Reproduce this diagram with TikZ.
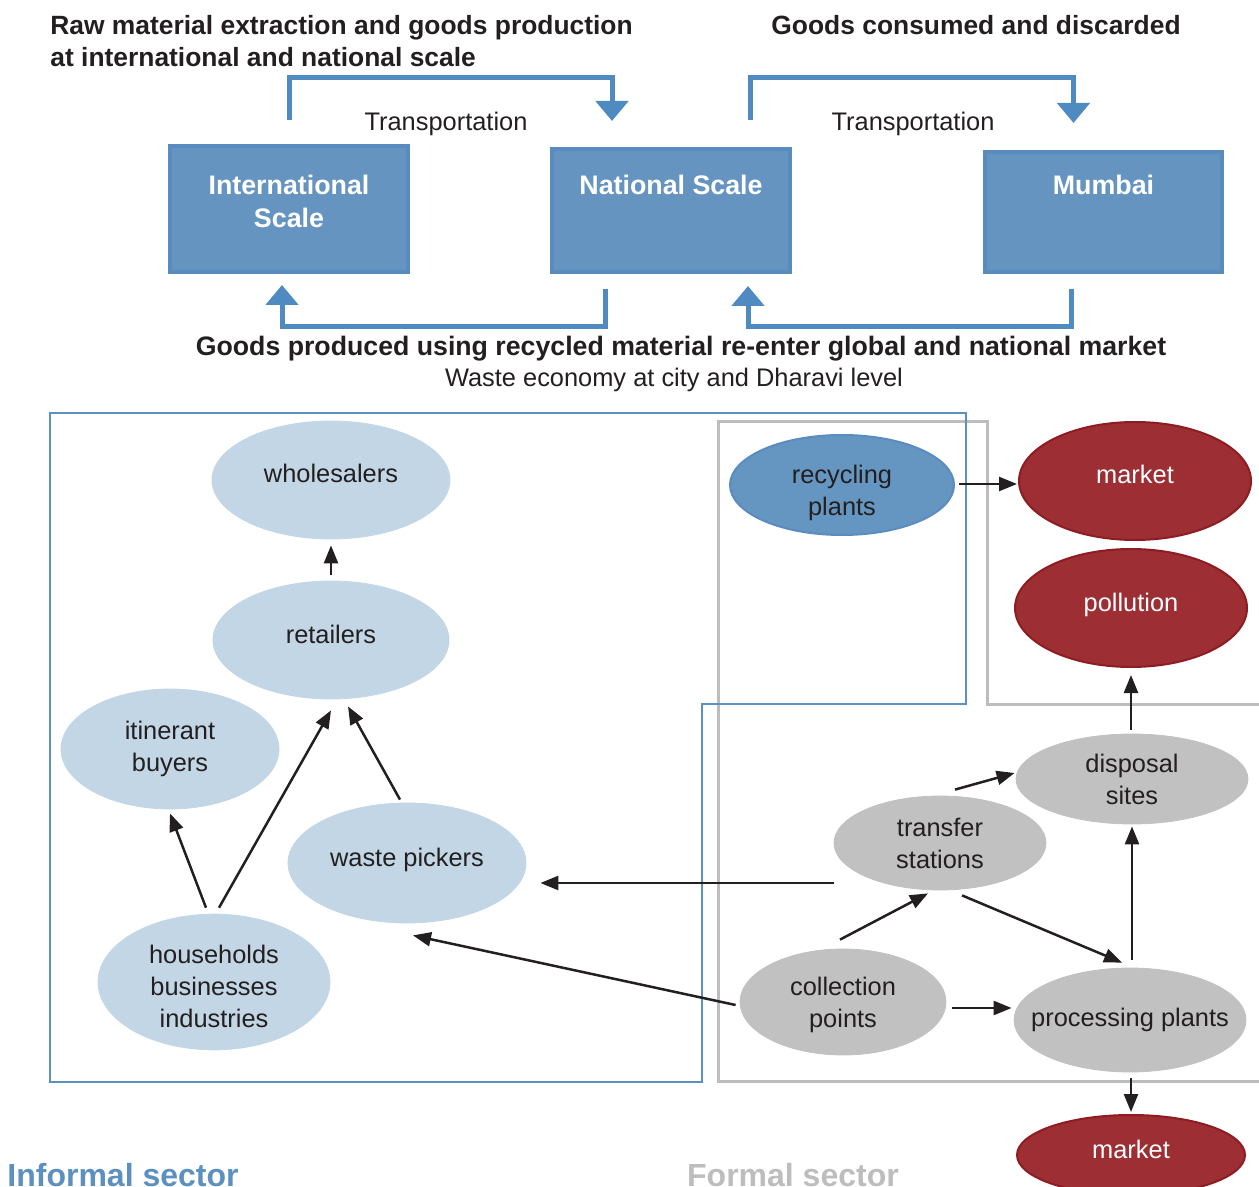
\documentclass[tikz,border=0pt]{standalone}
\usepackage{fontspec}
\setmainfont{Liberation Sans}
\usetikzlibrary{shapes.geometric,arrows.meta}
\definecolor{dark}{HTML}{231F20}
\definecolor{boxfill}{HTML}{6694C0}
\definecolor{boxline}{HTML}{5A8BBE}
\definecolor{bigarrow}{HTML}{4F8AC1}
\definecolor{lblue}{HTML}{C3D6E6}
\definecolor{recfill}{HTML}{6595C1}
\definecolor{recline}{HTML}{5B8CBF}
\definecolor{redfill}{HTML}{9D2E34}
\definecolor{redline}{HTML}{8E1D23}
\definecolor{grayell}{HTML}{C1C1C1}
\definecolor{frameblue}{HTML}{5B90C1}
\definecolor{framegray}{HTML}{BDBDBD}
\newcommand{\stacktext}[2]{\raisebox{#1}[\height][\depth]{\begin{tabular}{@{}c@{}}#2\end{tabular}}}
\begin{document}
\begin{tikzpicture}[x=0.5pt,y=-0.5pt,
  bodyfont/.style={font=\fontsize{12.7}{16}\selectfont},
  titlefont/.style={font=\fontsize{13.2}{16}\selectfont\bfseries, text=dark},
  ell/.style={ellipse, inner sep=0pt, align=center, bodyfont},
  oneline/.style={text height=9pt, text depth=6pt},
  lbell/.style={ell, fill=lblue, draw=lblue, text=dark},
  grell/.style={ell, fill=grayell, draw=grayell, text=dark},
  redell/.style={ell, fill=redfill, draw=redline, line width=1pt, text=white},
  bigbox/.style={rectangle, fill=boxfill, draw=boxline, line width=2pt, inner sep=0pt},
  boxlbl/.style={anchor=north, align=center, text=white, font=\fontsize{13.4}{16.5}\selectfont\bfseries},
  arr/.style={draw=dark, line width=1.25pt, -{Triangle[length=9pt,width=7pt]}},
  bigarr/.style={draw=bigarrow, line width=2.5pt, line join=miter, -{Triangle[length=10pt,width=16pt]}},
  frameb/.style={draw=frameblue, line width=1.4pt},
  frameg/.style={draw=framegray, line width=1.5pt}
]
\useasboundingbox (0,0) rectangle (1259,1187);

% titles
\node[titlefont, anchor=west, align=left, inner sep=0pt] (title1) at (50,41) {Raw material extraction and goods production\\at international and national scale};
\node[titlefont, anchor=west, inner sep=0pt] (title2) at (771,25) {Goods consumed and discarded};
\node[titlefont, font=\fontsize{13.35}{16}\selectfont\bfseries] (title3) at (681,349) {Goods produced using recycled material re-enter global and national market};
\node[bodyfont, text=dark] (title4) at (674,380) {Waste economy at city and Dharavi level};
\node[bodyfont, text=dark] (tr1) at (446,124) {Transportation};
\node[bodyfont, text=dark] (tr2) at (913,124) {Transportation};

% boxes
\node[bigbox, minimum width=119pt, minimum height=63pt, label={[boxlbl, yshift=-12pt]north:International\\Scale}] (intl) at (289,209) {};
\node[bigbox, minimum width=119pt, minimum height=61.5pt, label={[boxlbl, yshift=-10.5pt]north:National Scale}] (nat) at (671,210.5) {};
\node[bigbox, minimum width=118.5pt, minimum height=60pt, label={[boxlbl, yshift=-9pt]north:Mumbai}] (mum) at (1103.5,212) {};

% big arrows
\draw[bigarr] ([shift={(0,-24)}]intl.north) -- ++(0,-42) -| ([shift={(-59,-26)}]nat.north);
\draw[bigarr] ([shift={(79,-27)}]nat.north) -- ++(0,-42) -| ([shift={(-30,-27)}]mum.north);
\draw[bigarr] ([shift={(-66,15)}]nat.south) -- ++(0,38) -| ([shift={(-7,11)}]intl.south);
\draw[bigarr] ([shift={(-32.5,15)}]mum.south) -- ++(0,38) -| ([shift={(77,12)}]nat.south);

% frames
\draw[frameg] (1275,704) -- (987,704) -- (987,422) -- (718,422) -- (718,1081) -- (1275,1081);
\draw[frameb] (50,413) -- (966,413) -- (966,704) -- (702,704) -- (702,1082) -- (50,1082) -- cycle;

% informal nodes
\node[lbell, oneline, minimum width=119pt, minimum height=59pt] (whole) at (331,480) {wholesalers};
\node[lbell, oneline, minimum width=118pt, minimum height=59pt] (retail) at (331,640) {retailers};
\node[lbell, minimum width=109pt, minimum height=60pt] (itin) at (170,749) {itinerant\\buyers};
\node[lbell, oneline, minimum width=119pt, minimum height=60pt] (waste) at (407,863) {waste pickers};
\node[lbell, minimum width=116pt, minimum height=66pt] (house) at (214,982) {\stacktext{-3.5pt}{households\\businesses\\industries}};

% formal nodes
\node[ell, fill=recfill, draw=recline, line width=1pt, text=dark, minimum width=112pt, minimum height=50pt] (recyc) at (842,485) {\stacktext{-4pt}{recycling\\plants}};
\node[redell, oneline, minimum width=116pt, minimum height=59pt] (mkt1) at (1135,481) {market};
\node[redell, oneline, minimum width=116pt, minimum height=59pt] (poll) at (1131,608) {pollution};
\node[grell, minimum width=116pt, minimum height=45pt] (disp) at (1132,779) {disposal\\sites};
\node[grell, minimum width=106pt, minimum height=47pt] (trans) at (940,843) {transfer\\stations};
\node[grell, minimum width=103pt, minimum height=53pt] (coll) at (843,1002) {\stacktext{-1.5pt}{collection\\points}};
\node[grell, minimum width=116pt, minimum height=52pt] (proc) at (1130,1020) {\makebox[0pt]{processing plants}};
\node[redell, oneline, minimum width=114pt, minimum height=40pt] (mkt2) at (1131,1155) {market};

% sector labels
\node[font=\fontsize{16}{18}\selectfont\bfseries, text=frameblue] (inf) at (123,1175) {Informal sector};
\node[font=\fontsize{16}{18}\selectfont\bfseries, text=framegray] (form) at (793,1175) {Formal sector};

% connectors
\draw[arr] ([shift={(0,-6)}]retail.north) -- ([shift={(0,6)}]whole.south);
\draw[arr] ([shift={(-8,-6)}]house.north) -- ([shift={(0,4)}]itin.south);
\draw[arr] ([shift={(5,-6)}]house.north) -- ([shift={(0,11)}]retail.south);
\draw[arr] ([shift={(-7,-3)}]waste.north) -- ([shift={(17,7)}]retail.south);
\draw[arr] ([shift={(0,40)}]trans.west) -- ([shift={(14,20)}]waste.east);
\draw[arr] ([shift={(-4,3)}]coll.west) -- ([shift={(6,12)}]waste.south);
\draw[arr] ([shift={(4,-1)}]recyc.east) -- ([shift={(-1,3)}]mkt1.west);
\draw[arr] ([shift={(-1,-4)}]disp.north) -- ([shift={(0,7)}]poll.south);
\draw[arr] ([shift={(15,-6)}]trans.north) -- ([shift={(-1,-6)}]disp.west);
\draw[arr] ([shift={(-3,-9)}]coll.north) -- ([shift={(-12,3)}]trans.south);
\draw[arr] ([shift={(22,5)}]trans.south) -- ([shift={(-8,-5)}]proc.north);
\draw[arr] ([shift={(2,-8)}]proc.north) -- ([shift={(0,2)}]disp.south);
\draw[arr] ([shift={(6,6)}]coll.east) -- ([shift={(-2,-12)}]proc.west);
\draw[arr] ([shift={(1,6)}]proc.south) -- ([shift={(0,-2)}]mkt2.north);
\end{tikzpicture}
\end{document}
